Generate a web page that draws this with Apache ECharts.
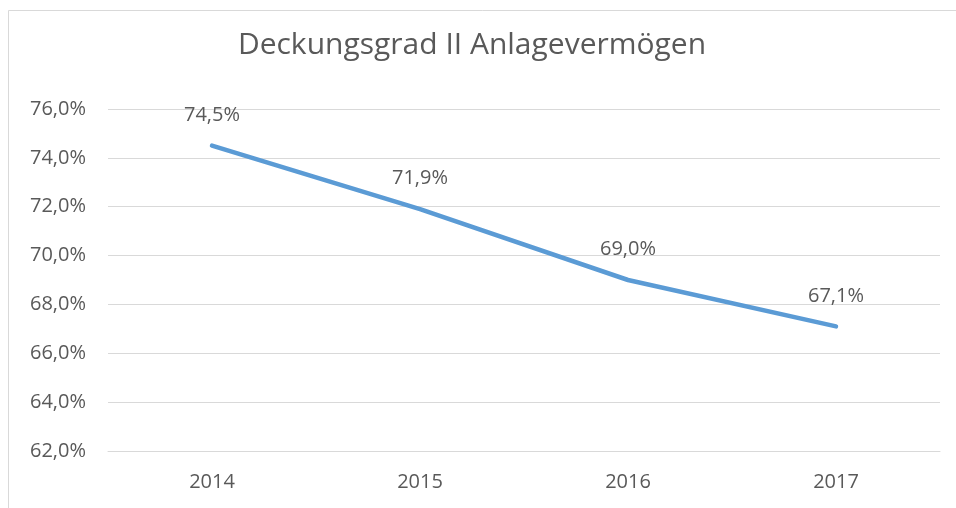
<!DOCTYPE html>
<html lang="de">
<head>
    <meta charset="UTF-8">
    <title>Deckungsgrad II Anlagevermögen</title>
    <script src="https://cdn.jsdelivr.net/npm/echarts@6/dist/echarts.min.js"></script>
</head>
<style type="text/css">
    html,body{
        margin: 0;
        padding: 0;
        background: #fff;
    }
    #chart{
        width: 956px;
        height: 508px;
    }
</style>
<body>
<div id="chart"></div>
<script>
    // Jahre und Deckungsgrad in Prozent
    var years = ['2014', '2015', '2016', '2017'];
    var coverage = [74.5, 71.9, 69.0, 67.1];
    var yMin = 62, yMax = 76, yStep = 2;

    function fmt(v){
        return v.toFixed(1).replace('.', ',') + '%';
    }

    var myChart = echarts.init(document.getElementById('chart'));
    var options = {
        backgroundColor: '#fff',
        textStyle: {
            fontFamily: 'Open Sans'
        },
        title: {
            text: 'Deckungsgrad II Anlagevermögen',
            left: 467,
            textAlign: 'center',
            top: 25,
            textStyle: {
                color: '#595959',
                fontSize: 30,
                fontWeight: 'normal',
                fontFamily: 'Open Sans'
            }
        },
        graphic: [{
            type: 'rect',
            shape: { x: 8.5, y: 10.5, width: 1000, height: 1000 },
            style: { fill: 'none', stroke: '#d9d9d9', lineWidth: 1 },
            silent: true
        }],
        grid: {
            left: 108,
            right: 16,
            top: 109,
            bottom: 57
        },
        xAxis: {
            type: 'category',
            data: years,
            boundaryGap: true,
            axisLine: { lineStyle: { color: '#d9d9d9', width: 1 } },
            axisTick: { show: false },
            axisLabel: {
                color: '#595959',
                fontSize: 20,
                margin: 21
            }
        },
        yAxis: {
            type: 'value',
            min: yMin,
            max: yMax,
            interval: yStep,
            axisLine: { show: false },
            axisTick: { show: false },
            splitLine: { lineStyle: { color: '#d9d9d9', width: 1 } },
            axisLabel: {
                color: '#595959',
                fontSize: 20,
                margin: 22,
                formatter: function(v){ return fmt(v); }
            }
        },
        series: [{
            type: 'line',
            data: coverage,
            symbol: 'circle',
            symbolSize: 1,
            showSymbol: true,
            itemStyle: { color: '#5b9bd5' },
            lineStyle: { color: '#5b9bd5', width: 4.5, cap: 'round' },
            label: {
                show: true,
                position: 'top',
                distance: 20,
                color: '#595959',
                fontSize: 20,
                formatter: function(p){ return fmt(p.value); }
            },
            animation: false
        }],
        animation: false
    };
    myChart.setOption(options);
</script>
</body>
</html>
